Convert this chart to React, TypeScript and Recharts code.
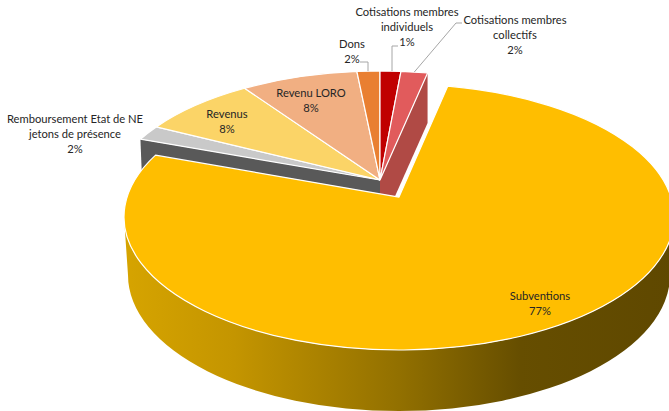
import { PieChart, Pie, Cell } from 'recharts';

const names = [
    'Remboursement Etat de NE jetons de présence',
    'Revenus',
    'Revenu LORO',
    'Dons',
    'Cotisations membres individuels',
    'Cotisations membres collectifs',
    'Subventions',
];
const shares = [1.9, 7.9, 8.1, 1.6, 1.45, 1.85, 77.2];
const topColors = ['#C9C9C9', '#FBD467', '#F1AF82', '#E97F31', '#C00000', '#E15B5C', '#FFBE00'];

const data = names.map((name, i) => ({ name, value: shares[i] }));

// label lines and where each one sits, same order as names
const labelLines = [
    ['Remboursement Etat de NE', 'jetons de présence'],
    ['Revenus'],
    ['Revenu LORO'],
    ['Dons'],
    ['Cotisations membres', 'individuels'],
    ['Cotisations membres', 'collectifs'],
    ['Subventions'],
];
const labelAt = [[75, 123], [227, 118], [311, 97], [352, 48], [407, 16], [515, 24], [540, 300]];
// leader elbows (from the label towards the slice), null when there is none
const leaders = [
    null, null, null,
    [[360, 62], [368, 62]],
    [[398, 46], [392, 46]],
    [[462, 23], [456, 23]],
    null,
];

const WIDTH = 669;
const HEIGHT = 411;
const START = 160.2;
const DEPTH = 50;
const LAST = names.length - 1;

// the tilted pie: top ellipse and how far the hub sits above its middle
const body = { x: 380, y: 202, rx: 273, ry: 131, k: 0.168 };
const pulled = { x: 399, y: 217, rx: 275, ry: 133, k: 0.15 };

const rim = (p: typeof body, deg: number) => {
    const t = (deg * Math.PI) / 180;
    const w = 1 + p.k * Math.sin(t);
    return {
        x: p.x + (p.rx * Math.sqrt(1 - p.k * p.k) * Math.cos(t)) / w,
        y: p.y - (p.ry * Math.sin(t) + p.k * p.ry) / w,
    };
};
const hub = (p: typeof body) => ({ x: p.x, y: p.y - p.k * p.ry });

const topPath = (p: typeof body, from: number, to: number) => {
    const a = rim(p, from);
    const b = rim(p, to);
    const c = hub(p);
    const large = from - to > 180 ? 1 : 0;
    return `M${c.x},${c.y} L${a.x},${a.y} A${p.rx},${p.ry} 0 ${large} 1 ${b.x},${b.y} Z`;
};

const SliceShape = (props: any) => {
    const { startAngle, endAngle, fill, name } = props;
    const idx = names.indexOf(name);
    const p = idx === LAST ? pulled : body;
    const c = hub(p);

    let wall = null;
    if (idx === 0) {
        // cut face on the left
        const a = rim(p, startAngle);
        wall = <path d={`M${c.x},${c.y} L${a.x},${a.y} L${a.x + 2},${a.y + DEPTH} L${c.x},${c.y + DEPTH} Z`} fill="#595959" />;
    }
    if (idx === LAST - 1) {
        const b = rim(p, endAngle);
        wall = <path d={`M${c.x},${c.y} L${b.x},${b.y} L${b.x},${b.y + DEPTH} L${c.x},${c.y + DEPTH} Z`} fill="#B04A45" />;
    }
    if (idx === LAST) {
        wall = (
            <path
                d={`M${p.x - p.rx},${p.y} A${p.rx},${p.ry} 0 0 0 ${p.x + p.rx},${p.y} L${p.x + p.rx - 4},${p.y + 58} A${p.rx - 4},${p.ry + 3} 0 0 1 ${p.x - p.rx + 4},${p.y + 58} Z`}
                fill="url(#sideShade)"
            />
        );
    }
    return (
        <g>
            {wall}
            <path d={topPath(p, startAngle, endAngle)} fill={fill} stroke="#fff" strokeWidth={1.2} strokeLinejoin="round" />
        </g>
    );
};

const SliceLabel = (props: any) => {
    const { index, midAngle, name, value } = props;
    const idx = names.indexOf(name);
    const [x, y] = labelAt[idx];
    const rows = [...labelLines[idx], `${Math.round(value)}%`];
    const elbow = leaders[idx];
    const end = rim(body, midAngle);
    return (
        <g key={index}>
            {elbow && (
                <polyline
                    points={`${elbow.map((e) => e.join(',')).join(' ')} ${idx === 5 ? end.x : elbow[1][0]},${end.y}`}
                    fill="none"
                    stroke="#A6A6A6"
                    strokeWidth={1}
                />
            )}
            <text x={x} y={y} textAnchor="middle" fontFamily="Lato, sans-serif" fontSize={11.2} fill="#262626">
                {rows.map((r, i) => (
                    <tspan key={r} x={x} dy={i === 0 ? 0 : 14.8}>{r}</tspan>
                ))}
            </text>
        </g>
    );
};

export default function App() {
    return (
        <div style={{ position: 'absolute', left: 0, top: 0, width: WIDTH, height: HEIGHT, overflow: 'hidden', background: '#fff' }}>
            <PieChart width={WIDTH} height={HEIGHT} margin={{ top: 0, right: 0, bottom: 0, left: 0 }}>
                <defs>
                    <linearGradient id="sideShade" x1="0" y1="0" x2="1" y2="0">
                        <stop offset="0%" stopColor="#D6A400" />
                        <stop offset="20%" stopColor="#C49500" />
                        <stop offset="50%" stopColor="#927000" />
                        <stop offset="72%" stopColor="#664E00" />
                        <stop offset="100%" stopColor="#5F4800" />
                    </linearGradient>
                </defs>
                <Pie
                    data={data}
                    dataKey="value"
                    nameKey="name"
                    cx={380}
                    cy={180}
                    outerRadius={150}
                    startAngle={START}
                    endAngle={START - 360}
                    paddingAngle={0}
                    shape={SliceShape}
                    label={SliceLabel}
                    labelLine={false}
                    isAnimationActive={false}
                >
                    {names.map((n, i) => (
                        <Cell key={n} fill={topColors[i]} />
                    ))}
                </Pie>
            </PieChart>
        </div>
    );
}
